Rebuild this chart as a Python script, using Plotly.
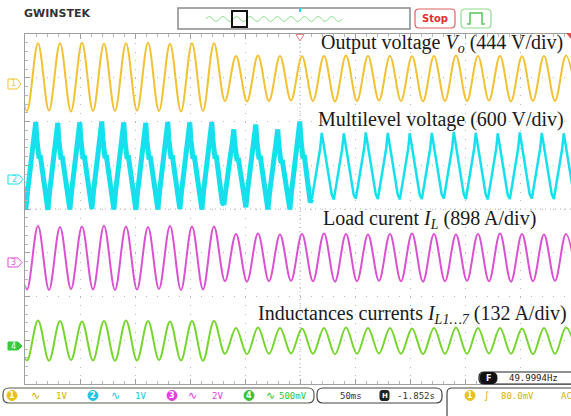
import plotly.graph_objects as go

W, H = 571, 416

# ---------------- data (screen divisions, 50 ms/div) ----------------
# times of the sine extrema (ms from left screen edge); even index = peak, odd = trough
ext_t_ms = [-8.2, 1.8, 11.8, 21.8, 31.8, 41.8, 51.8, 61.8, 71.8, 81.8,
            91.8, 101.8, 111.8, 121.8, 131.8, 141.8, 151.8, 161.8, 171.8, 181.8,
            191.8, 201.8, 211.8, 221.8, 231.8, 241.8, 251.8, 261.8, 271.8, 281.8,
            291.8, 301.8, 311.8, 321.8, 331.8, 341.8, 351.8, 361.8, 371.8, 381.8,
            391.8, 401.8, 411.8, 421.8, 431.8, 441.8, 451.8, 461.8, 471.8, 481.8,
            491.8, 501.8]

# CH1 output voltage Vo
vo_div = [3.78, 2.24, 3.79, 2.25, 3.79, 2.23, 3.80, 2.24, 3.78, 2.24,
          3.79, 2.25, 3.80, 2.24, 3.78, 2.23, 3.79, 2.24, 3.79, 2.47,
          3.50, 2.46, 3.51, 2.47, 3.50, 2.48, 3.49, 2.47, 3.50, 2.46,
          3.51, 2.47, 3.50, 2.48, 3.50, 2.47, 3.49, 2.46, 3.50, 2.47,
          3.51, 2.47, 3.50, 2.48, 3.50, 2.46, 3.49, 2.47, 3.50, 2.47,
          3.51, 2.47]

# CH3 load current IL
il_div = [-0.40, -1.84, -0.39, -1.85, -0.41, -1.83, -0.40, -1.84, -0.38, -1.85,
          -0.40, -1.84, -0.41, -1.83, -0.39, -1.85, -0.40, -1.84, -0.40, -1.65,
          -0.57, -1.66, -0.56, -1.65, -0.58, -1.64, -0.57, -1.65, -0.56, -1.66,
          -0.57, -1.65, -0.58, -1.64, -0.57, -1.65, -0.56, -1.66, -0.57, -1.65,
          -0.58, -1.64, -0.57, -1.65, -0.56, -1.66, -0.57, -1.65, -0.58, -1.64,
          -0.57, -1.65]

# CH4 inductance currents IL1...7
ilk_div = [-2.56, -3.46, -2.55, -3.47, -2.56, -3.45, -2.57, -3.46, -2.56, -3.47,
           -2.55, -3.46, -2.56, -3.45, -2.57, -3.46, -2.56, -3.47, -2.56, -3.31,
           -2.72, -3.32, -2.71, -3.31, -2.72, -3.30, -2.73, -3.31, -2.72, -3.32,
           -2.71, -3.31, -2.72, -3.30, -2.72, -3.31, -2.73, -3.32, -2.72, -3.31,
           -2.71, -3.31, -2.72, -3.30, -2.72, -3.31, -2.73, -3.32, -2.72, -3.31,
           -2.71, -3.31]

# CH2 multilevel voltage: one entry per cycle (trough time, trough level, peak level)
ml_start_ms = [-19.2, 0.8, 20.8, 40.8, 60.8, 80.8, 100.8, 120.8, 140.8, 160.8,
               180.8, 200.8, 220.8, 240.8, 260.8, 280.8, 300.8, 320.8, 340.8, 360.8,
               380.8, 400.8, 420.8, 440.8, 460.8, 480.8]
ml_trough_div = [-0.01, 0.00, -0.02, -0.01, 0.00, -0.01, -0.02, -0.01, 0.00, -0.01,
                 0.10, 0.04, -0.01, -0.01, 0.23, 0.22, 0.24, 0.23, 0.22, 0.23,
                 0.24, 0.23, 0.22, 0.23, 0.24, 0.23]
ml_peak_div = [1.98, 1.99, 1.97, 1.98, 2.00, 1.98, 1.97, 1.99, 1.98, 1.99,
               1.82, 1.93, 1.82, 2.00, 1.74, 1.73, 1.75, 1.74, 1.73, 1.74,
               1.76, 1.74, 1.73, 1.75, 1.74, 1.73]
# shape of one cycle (ms after trough, fraction of trough->peak swing)
ml_noisy_phase = [0, 1.5, 3, 4.5, 6, 7.5, 9, 10, 11, 12, 13, 14, 15.5, 17, 18.5]
ml_noisy_level = [0, 0.20, 0.36, 0.50, 0.66, 0.80, 1.0, 0.80, 0.66, 0.58, 0.62, 0.52, 0.36, 0.20, 0.08]
ml_clean_phase = [0, 1.5, 3, 4.5, 6, 7.5, 9, 10.5, 12, 13.5, 15, 16.5, 18]
ml_clean_level = [0, 0.14, 0.30, 0.44, 0.60, 0.76, 1.0, 0.84, 0.68, 0.52, 0.36, 0.20, 0.07]
ml_noisy_cycles = 14

# ---------------- helpers ----------------
def P(x, y):
    return f"{x / W:.5f},{1 - y / H:.5f}"

def rrect(x0, y0, x1, y1, r):
    return (f"M{P(x0 + r, y0)} L{P(x1 - r, y0)} Q{P(x1, y0)} {P(x1, y0 + r)} "
            f"L{P(x1, y1 - r)} Q{P(x1, y1)} {P(x1 - r, y1)} L{P(x0 + r, y1)} "
            f"Q{P(x0, y1)} {P(x0, y1 - r)} L{P(x0, y0 + r)} Q{P(x0, y0)} {P(x0 + r, y0)} Z")

shapes, anns = [], []

def path(d, line=None, width=1, fill=None):
    shapes.append(dict(type="path", xref="paper", yref="paper", path=d,
                       line=dict(color=line or "rgba(0,0,0,0)", width=width),
                       fillcolor=fill or "rgba(0,0,0,0)", layer="above"))

def txt(x, y, s, color="#222", size=9, family="DejaVu Sans", xanchor="center"):
    anns.append(dict(x=x / W, y=1 - y / H, xref="paper", yref="paper", text=s,
                     showarrow=False, xanchor=xanchor, yanchor="middle",
                     font=dict(color=color, size=size, family=family)))

YEL, CYA, MAG, GRN = "#F2C232", "#16E0EE", "#DA52D2", "#76D62E"

# ---------------- traces ----------------
fig = go.Figure()
fig.add_trace(go.Scatter(x=ext_t_ms, y=vo_div, mode="lines",
                         line=dict(color=YEL, width=2, shape="spline")))

xs_n, ys_n, xs_c, ys_c = [], [], [], []
for c, t0 in enumerate(ml_start_ms):
    tr, pk = ml_trough_div[c], ml_peak_div[c]
    if c < ml_noisy_cycles:
        for ph, lv in zip(ml_noisy_phase, ml_noisy_level):
            xs_n.append(t0 + ph); ys_n.append(tr + lv * (pk - tr))
    else:
        for ph, lv in zip(ml_clean_phase, ml_clean_level):
            xs_c.append(t0 + ph); ys_c.append(tr + lv * (pk - tr))
xs_n.append(xs_c[0]); ys_n.append(ys_c[0])
fig.add_trace(go.Scatter(x=xs_n, y=ys_n, mode="lines",
                         line=dict(color=CYA, width=5, shape="linear")))
fig.add_trace(go.Scatter(x=xs_c, y=ys_c, mode="lines",
                         line=dict(color=CYA, width=2.5, shape="linear")))

fig.add_trace(go.Scatter(x=ext_t_ms, y=il_div, mode="lines",
                         line=dict(color=MAG, width=2, shape="spline")))
fig.add_trace(go.Scatter(x=ext_t_ms, y=ilk_div, mode="lines",
                         line=dict(color=GRN, width=2, shape="spline")))

# ---------------- graticule ----------------
x_dom = [25 / W, 1]
y_dom = [1 - 384 / H, 1 - 34 / H]
fig.update_layout(
    width=W, height=H, margin=dict(l=0, r=0, t=0, b=0),
    paper_bgcolor="white", plot_bgcolor="white", showlegend=False,
    xaxis=dict(domain=x_dom, range=[0, 546 / 1.1], tick0=0, dtick=50,
               showgrid=True, gridcolor="#b8b8b8", gridwidth=1, griddash="1px,7.75px",
               showline=True, linecolor="#a0a0a0", linewidth=1, mirror="ticks",
               ticks="inside", ticklen=5, tickcolor="#a0a0a0", showticklabels=False,
               zeroline=False, fixedrange=True,
               minor=dict(dtick=10, ticks="inside", ticklen=3, tickcolor="#b8b8b8",
                          showgrid=False)),
    yaxis=dict(domain=y_dom, range=[-4, 4], tick0=0, dtick=1,
               showgrid=True, gridcolor="#b8b8b8", gridwidth=1, griddash="1px,10px",
               showline=True, linecolor="#a0a0a0", linewidth=1,
               ticks="inside", ticklen=5, tickcolor="#a0a0a0", showticklabels=False,
               zeroline=False, fixedrange=True,
               minor=dict(dtick=0.2, ticks="inside", ticklen=3, tickcolor="#b8b8b8",
                          showgrid=False)),
)
# centre cross (denser dots)
shapes.append(dict(type="line", xref="x", yref="paper", x0=250, x1=250, y0=y_dom[0], y1=y_dom[1],
                   line=dict(color="#b0b0b0", width=1, dash="1px,3px"), layer="below"))
shapes.append(dict(type="line", xref="paper", yref="y", x0=x_dom[0], x1=1, y0=0, y1=0,
                   line=dict(color="#b0b0b0", width=1, dash="1px,4px"), layer="below"))

# trigger position marker and trigger-level marker
path(f"M{P(296, 34.5)} L{P(304, 34.5)} L{P(300, 41)} Z", line="#e88080", width=1, fill="white")
path(f"M{P(566, 33)} L{P(571, 33)} L{P(571, 39)} Z", fill="#e05050")

# channel ground markers
def chmark(x0, y0, x1, y1, col, num, filled):
    ym = (y0 + y1) / 2
    path(f"M{P(x0, y0)} L{P(x1 - 4, y0)} L{P(x1, ym)} L{P(x1 - 4, y1)} L{P(x0, y1)} Z",
         line=col, width=1, fill=col if filled else "white")
    txt((x0 + x1 - 3) / 2, ym, num, color="white" if filled else col, size=8)

chmark(8, 79, 21, 89, YEL, "1", False)
chmark(8, 175, 23, 184, CYA, "2", False)
chmark(8, 258, 22, 267, MAG, "3", False)
chmark(8, 342, 22, 350, "#3cc83c", "4", True)

# ---------------- top bar ----------------
txt(22, 13, "<b>GWINSTEK</b>", color="#333", size=11, family="DejaVu Sans", xanchor="left")
path(f"M{P(178, 8)} L{P(410, 8)} L{P(410, 29)} L{P(178, 29)} Z", line="#8a8a8a", width=1.5)
wave = f"M{P(206, 19)}"
for i in range(20):
    xa = 206 + i * 6.8
    yc = 19 + (-5 if i % 2 == 0 else 5)
    wave += f" Q{P(xa + 3.4, yc)} {P(xa + 6.8, 19)}"
path(wave, line="#8ee08e", width=1)
path(f"M{P(232, 11)} L{P(247, 11)} L{P(247, 27)} L{P(232, 27)} Z", line="#111", width=2)
path(f"M{P(300, 8)} L{P(300, 12)}", line=CYA, width=2)
path(rrect(415, 9, 455, 28, 4), line="#e06060", width=1.2, fill="white")
txt(435, 18.5, "<b>Stop</b>", color="#e03030", size=10)
path(rrect(461, 9, 491, 28, 4), line="#8fdc8f", width=1.2, fill="white")
path(f"M{P(467, 24)} L{P(470, 24)} L{P(470, 13)} L{P(482, 13)} L{P(482, 24)} L{P(485, 24)}",
     line="#55c855", width=1.5)

# ---------------- bottom bar ----------------
BY = 395.5
path(rrect(3, 388, 314, 403, 6), line="#5a5a4a", width=1.2, fill="white")
items = [(12, 35, 61, "1", "1V", "#E8C21A", "#d8b000"),
         (93, 115, 140, "2", "1V", "#22c4e0", "#22c4e0"),
         (172, 192, 217, "3", "2V", "#e040e0", "#e040e0"),
         (249, 270, 293, "4", "500mV", "#33c433", "#33c433")]
for cx, sx, vx, n, v, fc, tc in items:
    shapes.append(dict(type="circle", xref="paper", yref="paper",
                       x0=(cx - 5) / W, x1=(cx + 5) / W, y0=1 - (BY + 5) / H, y1=1 - (BY - 5) / H,
                       fillcolor=fc, line=dict(color=fc, width=1), layer="above"))
    txt(cx, BY, f"<b>{n}</b>", color="white", size=8)
    txt(sx, BY, "∿", color=tc, size=11)
    txt(vx, BY, v, color=tc, size=9, family="DejaVu Sans Mono")

path(rrect(317, 388, 442, 403, 6), line="#444", width=1.2, fill="white")
txt(351, BY, "50ms", color="#333", size=9, family="DejaVu Sans Mono")
path(rrect(380, 390.5, 389, 400.5, 2), line="#222", width=1, fill="#222")
txt(384.5, BY, "<b>H</b>", color="white", size=7)
txt(416, BY, "-1.852s", color="#333", size=9, family="DejaVu Sans Mono")

path(f"M{P(447, 420)} L{P(447, 393)} Q{P(447, 388)} {P(452, 388)} L{P(580, 388)}",
     line="#444", width=1.2)
shapes.append(dict(type="circle", xref="paper", yref="paper",
                   x0=465 / W, x1=475 / W, y0=1 - (BY + 5) / H, y1=1 - (BY - 5) / H,
                   fillcolor="#E8C21A", line=dict(color="#E8C21A", width=1), layer="above"))
txt(470, BY, "<b>1</b>", color="white", size=8)
txt(486, BY, "∫", color="#d8b000", size=10)
txt(517, BY, "80.0mV", color="#d8b000", size=9, family="DejaVu Sans Mono")
txt(559, BY, "AC", color="#d8b000", size=9, family="DejaVu Sans Mono", xanchor="left")

path(rrect(479, 372, 582, 384, 5), line="#222", width=1.2, fill="white")
path(rrect(480, 372.5, 497, 383.5, 5), line="#111", width=1, fill="#111")
txt(488.5, 378, "<b>F</b>", color="white", size=8)
txt(533, 378, "49.9994Hz", color="#222", size=9, family="DejaVu Sans Mono")

# ---------------- channel captions ----------------
SER = "Liberation Serif"
txt(441.5, 44, "Output voltage <i>V</i><sub><i>o</i></sub> (444 V/div)", color="#1a1a1a", size=20, family=SER)
txt(440.5, 119, "Multilevel voltage (600 V/div)", color="#1a1a1a", size=20, family=SER)
txt(429, 219.5, "Load curent <i>I</i><sub><i>L</i></sub> (898 A/div)", color="#1a1a1a", size=20, family=SER)
txt(412.5, 314, "Inductances currents <i>I</i><sub><i>L1…7</i></sub> (132 A/div)", color="#1a1a1a", size=20, family=SER)

fig.update_layout(shapes=shapes, annotations=anns)
fig.write_html("out.html",
               config={"displayModeBar": False, "staticPlot": True},
               post_script="document.body.style.margin='0px';document.body.style.padding='0px';"
                           "document.body.style.overflow='hidden';")
